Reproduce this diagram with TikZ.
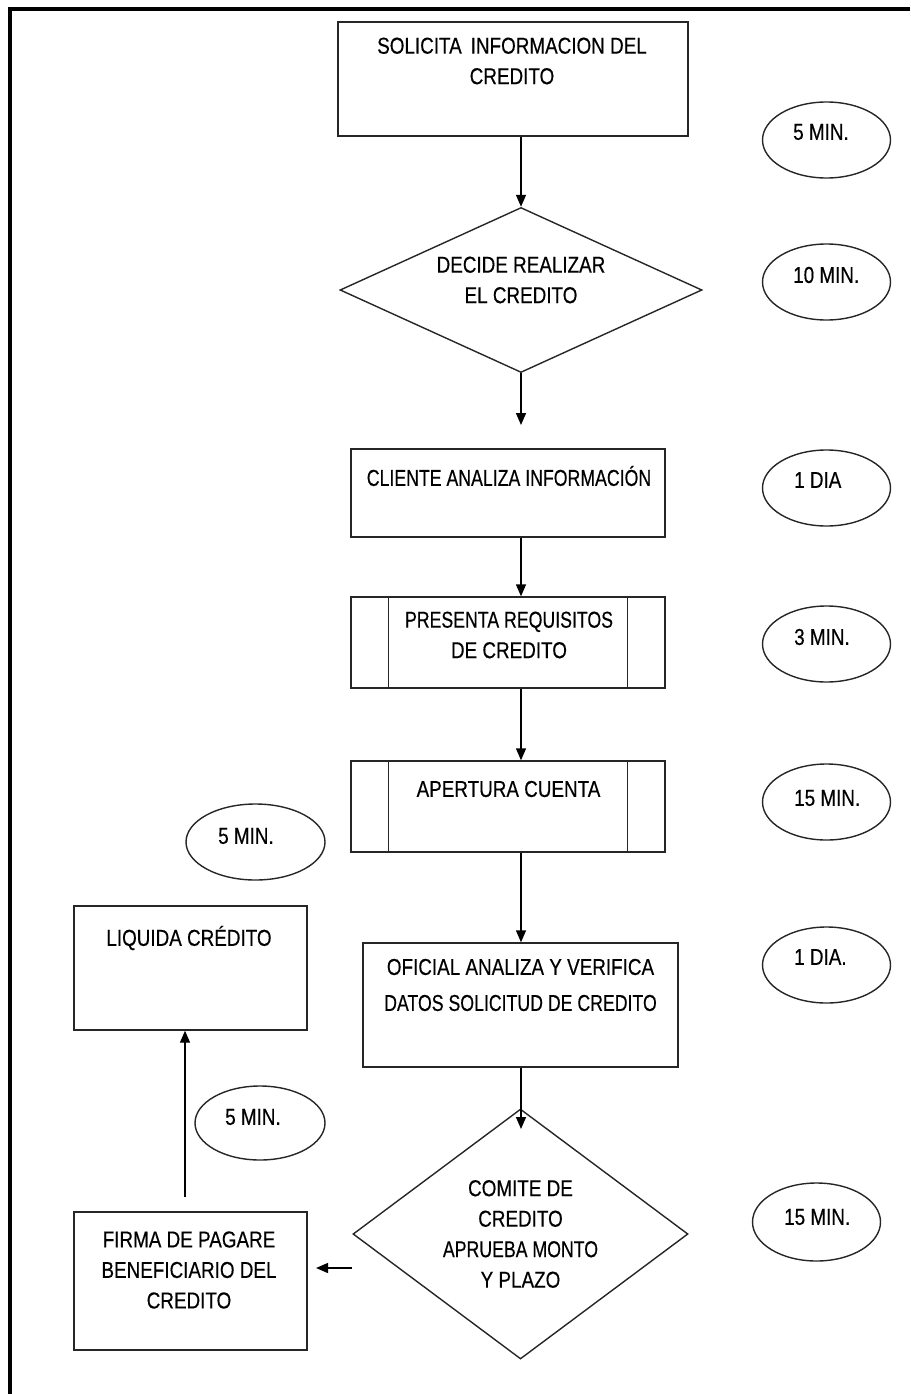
\documentclass[tikz,border=0pt]{standalone}
\usepackage{fontspec}
\setmainfont{Liberation Sans}[FakeStretch=0.82, FakeBold=0.4]
\newfontfamily\condfont{Liberation Sans}[FakeStretch=0.77, FakeBold=0.4]
\usetikzlibrary{shapes.geometric,arrows.meta}

\begin{document}
\begin{tikzpicture}[x=1pt,y=-1pt,
  shp/.style={draw=black!85, line width=1.4pt, inner sep=0pt},
  box/.style={shp, rectangle},
  oval/.style={shp, ellipse, minimum width=128, minimum height=76},
  dec/.style={shp, diamond},
  lbl/.style={inner sep=0pt, align=center, font=\fontsize{23}{30.5}\selectfont},
  tag/.style={inner sep=0pt, anchor=west, font=\fontsize{23}{25}\selectfont},
  flow/.style={line width=1.4pt, -{Triangle[width=10pt,length=12pt]}},
  frame/.style={line width=4pt}]

\useasboundingbox (0,0) rectangle (910,1394);

% page frame: left and top rules only
\draw[frame] (10,1394) -- (10,9) -- (910,9);

% main column axis
\coordinate (ax) at (521,0);

% ---- process steps ----
\node[box, minimum width=350, minimum height=114] (b1) at (513,79) {};
\node[lbl] (t1) at (512,61) {SOLICITA\hspace{9pt}INFORMACION DEL\\CREDITO};

\node[dec, minimum width=362, minimum height=165] (d1) at (521,290) {};
\node[lbl] (t2) at (521,280) {DECIDE REALIZAR\\EL CREDITO};
\coordinate (c2) at (521,425);

\node[box, minimum width=314, minimum height=88] (b3) at (508,493) {};
\node[lbl, font=\condfont\fontsize{23}{30.5}\selectfont] (t3) at (509,476) {CLIENTE ANALIZA INFORMACIÓN};

\node[box, minimum width=314, minimum height=91] (b4) at (508,642.5) {};
\draw[shp] ([xshift=38]b4.north west) -- ([xshift=38]b4.south west);
\draw[shp] ([xshift=-38]b4.north east) -- ([xshift=-38]b4.south east);
\node[lbl] (t4) at (509,635) {{\condfont PRESENTA REQUISITOS}\\DE CREDITO};

\node[box, minimum width=314, minimum height=91] (b5) at (508,806.5) {};
\draw[shp] ([xshift=38]b5.north west) -- ([xshift=38]b5.south west);
\draw[shp] ([xshift=-38]b5.north east) -- ([xshift=-38]b5.south east);
\node[lbl] (t5) at (508.5,789) {APERTURA CUENTA};

\node[box, minimum width=315, minimum height=124] (b6) at (520.5,1005) {};
\node[lbl, font=\fontsize{23}{36}\selectfont] (t6) at (520.5,985) {OFICIAL ANALIZA Y VERIFICA\\{\condfont DATOS SOLICITUD DE CREDITO}};
\coordinate (c6) at (521,1129);

\node[dec, minimum width=335, minimum height=250] (d2) at (520.5,1234) {};
\node[lbl] (t7) at (520.5,1234) {COMITE DE\\CREDITO\\{\condfont APRUEBA MONTO}\\Y PLAZO};
\coordinate (cl) at (352,1268);
\coordinate (cr) at (316,1268);

\node[box, minimum width=233, minimum height=138] (b8) at (190.5,1281) {};
\node[lbl] (t8) at (189,1270) {FIRMA DE PAGARE\\BENEFICIARIO DEL\\CREDITO};
\coordinate (cu) at (185,1197);

\node[box, minimum width=233, minimum height=124] (b9) at (190.5,968) {};
\node[lbl] (t9) at (189,938) {LIQUIDA CRÉDITO};

% ---- time estimates ----
\node[oval] (o1) at (826.5,140) {};
\node[tag] (m1) at (793,132) {5 MIN.};
\node[oval] (o2) at (826.5,282) {};
\node[tag] (m2) at (793,275) {10 MIN.};
\node[oval] (o3) at (826.5,488) {};
\node[tag] (m3) at (794,480) {1 DIA};
\node[oval] (o4) at (826.5,644) {};
\node[tag] (m4) at (794,637) {3 MIN.};
\node[oval] (o5) at (826.5,802) {};
\node[tag] (m5) at (794,798) {15 MIN.};
\node[oval] (o6) at (826.5,965) {};
\node[tag] (m6) at (794,957) {1 DIA.};
\node[oval, minimum height=78] (o7) at (816.5,1222) {};
\node[tag] (m7) at (784,1217) {15 MIN.};
\node[oval, minimum width=139] (o8) at (255.5,842) {};
\node[tag] (m8) at (218,836) {5 MIN.};
\node[oval, minimum width=130, minimum height=74] (o9) at (260,1123) {};
\node[tag] (m9) at (225,1117) {5 MIN.};

% ---- connectors ----
\draw[flow] (b1.south -| ax) -- (d1.north);
\draw[flow] (d1.south) -- (c2);
\draw[flow] (b3.south -| ax) -- (b4.north -| ax);
\draw[flow] (b4.south -| ax) -- (b5.north -| ax);
\draw[flow] (b5.south -| ax) -- (b6.north -| ax);
\draw[flow] (b6.south -| ax) -- (c6);
\draw[flow] (cl) -- (cr);
\draw[flow] (cu) -- (b9.south -| cu);

\end{tikzpicture}
\end{document}
